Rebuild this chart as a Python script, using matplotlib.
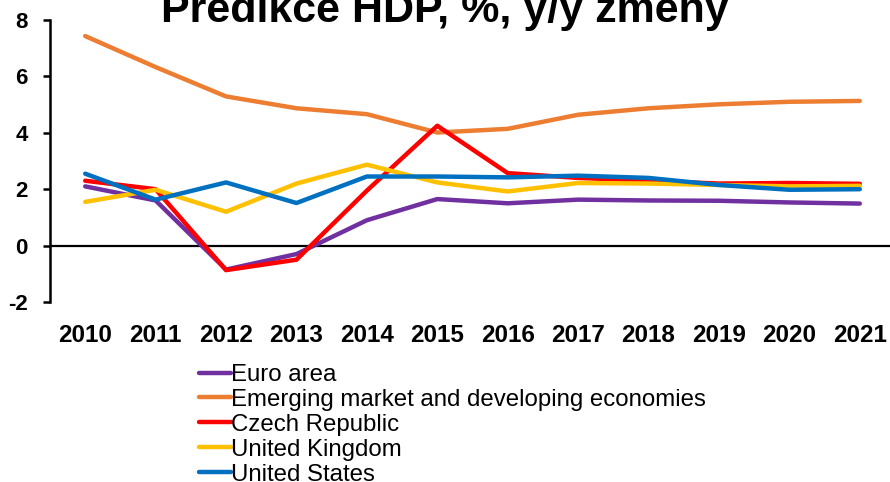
import matplotlib
matplotlib.use("Agg")
import matplotlib.pyplot as plt

years = [2010, 2011, 2012, 2013, 2014, 2015, 2016, 2017, 2018, 2019, 2020, 2021]

euro_area = [2.1, 1.6, -0.85, -0.3, 0.9, 1.65, 1.5, 1.63, 1.6, 1.59, 1.53, 1.49]
emerging = [7.43, 6.33, 5.29, 4.87, 4.66, 4.01, 4.14, 4.64, 4.87, 5.01, 5.1, 5.13]
czech = [2.3, 2.0, -0.87, -0.5, 1.95, 4.25, 2.57, 2.4, 2.3, 2.2, 2.22, 2.19]
uk = [1.55, 1.98, 1.2, 2.2, 2.87, 2.24, 1.92, 2.22, 2.2, 2.15, 2.1, 2.12]
us = [2.55, 1.63, 2.24, 1.51, 2.45, 2.45, 2.42, 2.48, 2.4, 2.15, 1.98, 2.0]

series = [
    ("Euro area", euro_area, "#7030A0"),
    ("Emerging market and developing economies", emerging, "#ED7D31"),
    ("Czech Republic", czech, "#FF0000"),
    ("United Kingdom", uk, "#FFC000"),
    ("United States", us, "#0070C0"),
]

plt.rcParams['font.family'] = ['Liberation Sans', 'DejaVu Sans']
plt.rcParams['axes.unicode_minus'] = False

fig = plt.figure(figsize=(8.9, 4.82), dpi=100)
ax = fig.add_axes([50 / 890, 1 - 302 / 482, 845 / 890, 282 / 482])

for name, vals, col in series:
    ax.plot(years, vals, color=col, lw=3.2, label=name, solid_capstyle='round')

ax.axhline(0, color='black', lw=1.6, zorder=1)
ax.set_xlim(2009.5, 2021.5)
ax.set_ylim(-2, 8)
ax.set_yticks([-2, 0, 2, 4, 6, 8])
ax.set_xticks(years)

for s in ['top', 'right', 'bottom']:
    ax.spines[s].set_visible(False)
ax.spines['left'].set_linewidth(1.8)

ax.tick_params(axis='y', length=5, width=1.8, pad=11, labelsize=16)
ax.tick_params(axis='x', length=0, pad=16, labelsize=17.5)
for lab in ax.get_xticklabels() + ax.get_yticklabels():
    lab.set_fontweight('bold')

fig.text(445 / 890, 1 - 22 / 482, "Predikce HDP, %, y/y změny", ha='center', va='baseline',
         fontsize=31, fontweight='bold')

fig.legend(loc='upper left', bbox_to_anchor=(199 / 890, 1 - 364 / 482), frameon=False,
           handlelength=1.35, handletextpad=0.0, labelspacing=0.12, fontsize=17.3,
           borderaxespad=0, borderpad=0)

fig.savefig("out.png", dpi=100)
